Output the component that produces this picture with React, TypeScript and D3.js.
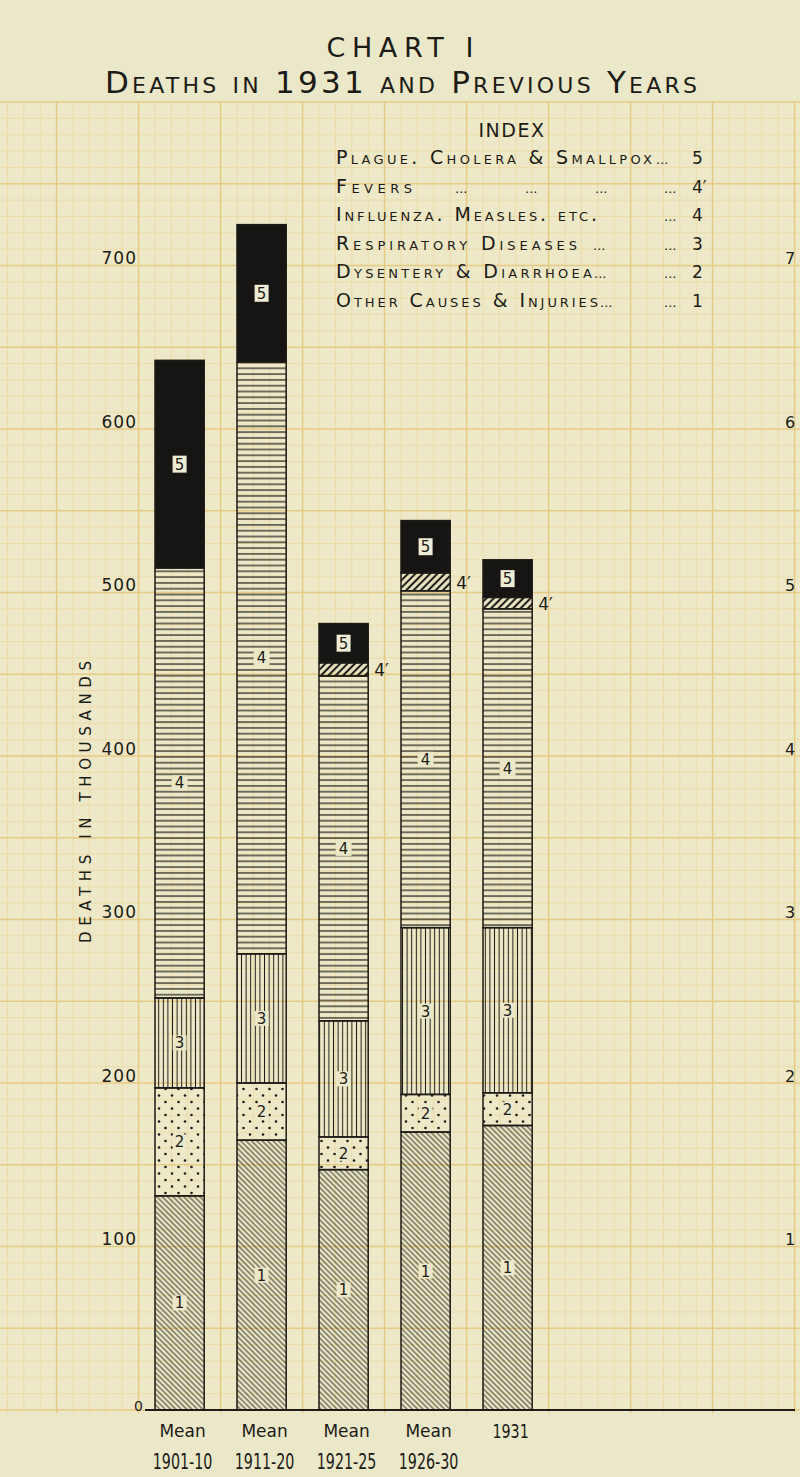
import React from 'react';
import * as d3 from 'd3';

// periods shown on the x axis
const periods = ['1901-10', '1911-20', '1921-25', '1926-30', '1931'];
const topLabels = ['Mean', 'Mean', 'Mean', 'Mean', '1931'];
const bottomLabels = ['1901-10', '1911-20', '1921-25', '1926-30', ''];

// deaths in thousands, by cause
const other = [131, 165, 147, 170, 174];        // 1
const dysentery = [66, 35, 20, 23, 20];          // 2
const respiratory = [55, 79, 71, 102, 101];      // 3
const influenza = [263, 362, 211, 206, 195];     // 4
const fevers = [0, 0, 8, 11, 7];                 // 4'
const plague = [127, 84, 24, 32, 23];            // 5

const keys = ['other', 'dysentery', 'respiratory', 'influenza', 'fevers', 'plague'];
const codes: Record<string, string> = {
  other: '1', dysentery: '2', respiratory: '3', influenza: '4', fevers: '4\u2032', plague: '5',
};

const yTicks = [0, 100, 200, 300, 400, 500, 600, 700];
const rightTicks = ['', '1', '2', '3', '4', '5', '6', '7'];

const indexLabels = [
  'Plague. Cholera & Smallpox',
  'Fevers',
  'Influenza. Measles. etc.',
  'Respiratory Diseases',
  'Dysentery & Diarrhoea',
  'Other Causes & Injuries',
];
const indexCodes = ['5', '4\u2032', '4', '3', '2', '1'];

const W = 800;
const H = 1477;
const PAPER = '#ebe8c9';
const INK = '#1c1b17';
const FONT = 'DejaVu Sans';

export default function App() {
  const y = d3.scaleLinear().domain([0, 700]).range([1410, 265.5]);
  const x = d3.scaleBand<string>().domain(periods).range([138.6, 548.6]).paddingInner(0.4).paddingOuter(0.2);
  const bw = x.bandwidth();

  const table = periods.map((p, i) => ({
    period: p,
    other: other[i],
    dysentery: dysentery[i],
    respiratory: respiratory[i],
    influenza: influenza[i],
    fevers: fevers[i],
    plague: plague[i],
  }));
  const series = d3.stack<any>().keys(keys)(table);

  // graph paper
  const minor = x.step() / 5;
  const gx0 = x.range()[0];
  const vLines = d3.range(-9, 42).map(k => ({ x: gx0 + k * minor, major: k % 5 === 0 })).filter(d => d.x >= 0 && d.x <= W);
  const hLines = d3.range(0, 81).map(k => ({ y: y(k * 10), major: k % 5 === 0 }));
  const gridTop = y(800);
  const gridBottom = 1413;

  const nameWidths = [316, 76, 261, 241, 256, 262];
  const rowY = (i: number) => 164 + i * 28.6;

  return (
    <svg width={W} height={H} style={{ position: 'absolute', left: 0, top: 0, display: 'block' }} fontFamily={FONT}>
      <defs>
        <pattern id="pat-influenza" patternUnits="userSpaceOnUse" width="10" height="5.8">
          <line x1="0" x2="10" y1="2.9" y2="2.9" stroke={INK} strokeWidth="1.2" />
        </pattern>
        <pattern id="pat-respiratory" patternUnits="userSpaceOnUse" width="4.6" height="10">
          <line x1="2.3" x2="2.3" y1="0" y2="10" stroke={INK} strokeWidth="1" />
        </pattern>
        <pattern id="pat-dysentery" patternUnits="userSpaceOnUse" width="13" height="13">
          <circle cx="3" cy="3.5" r="1.3" fill={INK} />
          <circle cx="9.5" cy="10" r="1.3" fill={INK} />
        </pattern>
        <pattern id="pat-other" patternUnits="userSpaceOnUse" width="3.8" height="10" patternTransform="rotate(-45)">
          <line x1="1.9" x2="1.9" y1="0" y2="10" stroke={INK} strokeWidth="0.9" />
        </pattern>
        <pattern id="pat-fevers" patternUnits="userSpaceOnUse" width="5.2" height="10" patternTransform="rotate(45)">
          <line x1="2.6" x2="2.6" y1="0" y2="10" stroke={INK} strokeWidth="2.1" />
        </pattern>
      </defs>

      <rect x={0} y={0} width={W} height={H} fill={PAPER} />
      <rect x={0} y={gridTop} width={W} height={gridBottom - gridTop} fill="#ede9c8" />

      {/* grid */}
      <g>
        {hLines.filter(d => !d.major).map((d, i) => (
          <line key={'h' + i} x1={0} x2={W} y1={d.y} y2={d.y} stroke="#ecdba8" strokeWidth={1} />
        ))}
        {vLines.filter(d => !d.major).map((d, i) => (
          <line key={'v' + i} x1={d.x} x2={d.x} y1={gridTop} y2={gridBottom} stroke="#ecdba8" strokeWidth={1} />
        ))}
        {hLines.filter(d => d.major).map((d, i) => (
          <line key={'H' + i} x1={0} x2={W} y1={d.y} y2={d.y} stroke="#e6c982" strokeWidth={1.5} />
        ))}
        {vLines.filter(d => d.major).map((d, i) => (
          <line key={'V' + i} x1={d.x} x2={d.x} y1={gridTop} y2={gridBottom} stroke="#e6c982" strokeWidth={1.5} />
        ))}
      </g>

      {/* title */}
      <text x={400} y={57} textAnchor="middle" fontSize={27} fill={INK} textLength={147} lengthAdjust="spacing">CHART I</text>
      <text x={105} y={93} fontSize={31} fill={INK} style={{ fontVariant: 'small-caps' }} textLength={592} lengthAdjust="spacing">
        Deaths in 1931 and Previous Years
      </text>

      {/* index */}
      <text x={512} y={137} textAnchor="middle" fontSize={19} fill={INK} letterSpacing={1.5}>INDEX</text>
      {indexLabels.map((t, i) => (
        <g key={t} fill={INK}>
          <text x={336} y={rowY(i)} fontSize={19} style={{ fontVariant: 'small-caps' }} textLength={nameWidths[i]} lengthAdjust="spacing">{t}</text>
          {i === 1 && [455, 525, 595].map(dx => (
            <text key={dx} x={dx} y={rowY(i)} fontSize={13}>...</text>
          ))}
          {i === 3 && <text x={593} y={rowY(i)} fontSize={13}>...</text>}
          {(i === 4 || i === 5) && <text x={nameWidths[i] + 338} y={rowY(i)} fontSize={13}>...</text>}
          <text x={i === 0 ? 656 : 664} y={rowY(i)} fontSize={13}>...</text>
          <text x={692} y={rowY(i)} fontSize={17}>{indexCodes[i]}</text>
        </g>
      ))}

      {/* y axis labels */}
      {yTicks.filter(v => v > 0).map(v => (
        <text key={'l' + v} x={137} y={y(v) - 1.5} textAnchor="end" fontSize={17} fill={INK} letterSpacing={1}>{v}</text>
      ))}
      <text x={143} y={1411} textAnchor="end" fontSize={14} fill={INK}>0</text>
      {yTicks.filter(v => v > 0).map((v, i) => (
        <text key={'r' + v} x={790} y={y(v) - 1.5} textAnchor="middle" fontSize={16} fill={INK}>{rightTicks[i + 1]}</text>
      ))}
      <text transform="translate(91,802) rotate(-90)" textAnchor="middle" fontSize={15} fill={INK} textLength={282} lengthAdjust="spacing">
        DEATHS IN THOUSANDS
      </text>

      {/* bars */}
      {series.map(s => (
        <g key={s.key}>
          {s.map((d, i) => {
            const v = d[1] - d[0];
            if (v <= 0) return null;
            const x0 = x(periods[i])!;
            const yt = y(d[1]);
            const h = y(d[0]) - yt;
            return (
              <rect key={i} x={x0} y={yt} width={bw} height={h}
                fill={s.key === 'plague' ? '#161513' : `url(#pat-${s.key})`}
                stroke={INK} strokeWidth={1.5} />
            );
          })}
        </g>
      ))}

      {/* segment labels */}
      {series.map(s => (
        <g key={'lab' + s.key}>
          {s.map((d, i) => {
            const v = d[1] - d[0];
            if (v <= 0) return null;
            const cx = x(periods[i])! + bw / 2;
            const cy = (y(d[0]) + y(d[1])) / 2;
            if (s.key === 'fevers') {
              return (
                <text key={i} x={x(periods[i])! + bw + 6} y={cy + 7} fontSize={17} fill={INK}>{codes[s.key]}</text>
              );
            }
            const bgW = s.key === 'influenza' ? 16 : 14;
            const bgH = s.key === 'plague' ? 17 : 15;
            return (
              <g key={i}>
                <rect x={cx - bgW / 2} y={cy - bgH / 2} width={bgW} height={bgH} fill={s.key === 'plague' ? '#efecd6' : PAPER} />
                <text x={cx} y={cy + 5.5} textAnchor="middle" fontSize={15} fill={INK}>{codes[s.key]}</text>
              </g>
            );
          })}
        </g>
      ))}

      {/* baseline */}
      <line x1={145} x2={795} y1={y(0)} y2={y(0)} stroke={INK} strokeWidth={2} />

      {/* x labels */}
      {periods.map((p, i) => {
        const cx = x(p)! + bw / 2 + 3;
        return (
          <g key={'x' + p} fill={INK}>
            {topLabels[i] === 'Mean'
              ? <text x={cx} y={1437} textAnchor="middle" fontSize={17}>{topLabels[i]}</text>
              : <text transform={`translate(${cx},1438) scale(0.75,1)`} textAnchor="middle" fontSize={19}>{topLabels[i]}</text>}
            {bottomLabels[i] && (
              <text transform={`translate(${cx},1469) scale(0.65,1)`} textAnchor="middle" fontSize={22}>{bottomLabels[i]}</text>
            )}
          </g>
        );
      })}
    </svg>
  );
}
